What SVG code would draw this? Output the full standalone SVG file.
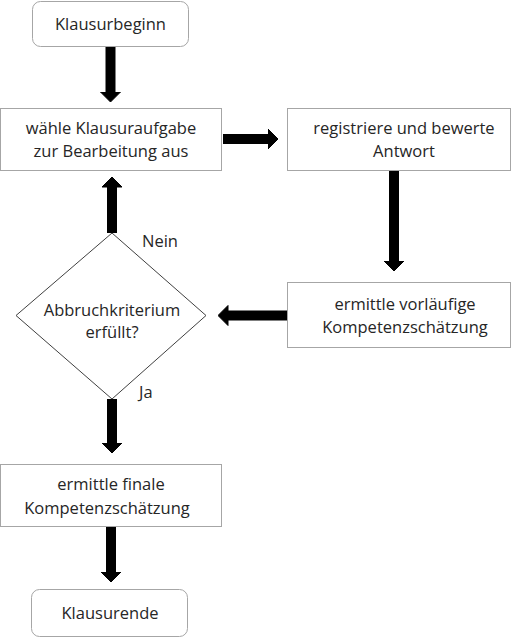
<svg xmlns="http://www.w3.org/2000/svg" width="512" height="638" viewBox="0 0 512 638">
<defs>
<style>
.box{fill:#fff;stroke:#a6a6a6;stroke-width:1}
.dia{fill:#fff;stroke:#404040;stroke-width:1}
.t{font-family:"Open Sans","Liberation Sans",sans-serif;font-size:16.5px;fill:#262626;text-anchor:middle}
.lbl{font-family:"Open Sans","Liberation Sans",sans-serif;font-size:16.5px;fill:#262626}
.arr{stroke:#000;stroke-width:10;fill:none;marker-end:url(#head)}
</style>
<marker id="head" markerUnits="userSpaceOnUse" viewBox="0 0 11 21" markerWidth="11" markerHeight="21" refX="0.5" refY="10.5" orient="auto">
<path d="M0.5,0.5 L10.5,10.5 L0.5,20.5 z" fill="#000" stroke="#000" stroke-width="1" stroke-linejoin="round"/>
</marker>
</defs>
<rect width="512" height="638" fill="#fff"/>
<g id="connectors">
<line class="arr" x1="110.5" y1="47" x2="110.5" y2="92"/>
<line class="arr" x1="223" y1="139" x2="268" y2="139"/>
<line class="arr" x1="394" y1="171" x2="394" y2="261"/>
<line class="arr" x1="287" y1="315.5" x2="228" y2="315.5"/>
<line class="arr" x1="112" y1="233" x2="112" y2="187"/>
<line class="arr" x1="112" y1="399" x2="112" y2="443"/>
<line class="arr" x1="111" y1="527" x2="111" y2="572"/>
</g>
<g id="start">
<rect class="box" x="32.5" y="1.5" width="156" height="45" rx="8"/>
<text class="t" x="110.5" y="30">Klausurbeginn</text>
</g>
<g id="select">
<rect class="box" x="0.5" y="108.5" width="221" height="62"/>
<text class="t" x="111" y="134">wähle Klausuraufgabe</text>
<text class="t" x="111" y="157">zur Bearbeitung aus</text>
</g>
<g id="register">
<rect class="box" x="287.5" y="108.5" width="223" height="62"/>
<text class="t" x="404" y="134">registriere und bewerte</text>
<text class="t" x="404" y="157">Antwort</text>
</g>
<g id="estimate">
<rect class="box" x="287.5" y="282.5" width="223" height="65"/>
<text class="t" x="405" y="310">ermittle vorläufige</text>
<text class="t" x="405" y="333">Kompetenzschätzung</text>
</g>
<g id="decision">
<polygon class="dia" points="112,233 206,315.5 112,399 16,315.5"/>
<text class="t" x="112" y="316">Abbruchkriterium</text>
<text class="t" x="112" y="338">erfüllt?</text>
<text class="lbl" x="142" y="247">Nein</text>
<text class="lbl" x="139" y="398">Ja</text>
</g>
<g id="final">
<rect class="box" x="0.5" y="464.5" width="221" height="62"/>
<text class="t" x="111" y="490">ermittle finale</text>
<text class="t" x="107" y="514">Kompetenzschätzung</text>
</g>
<g id="end">
<rect class="box" x="31.5" y="589.5" width="156" height="47" rx="8"/>
<text class="t" x="110" y="619">Klausurende</text>
</g>
</svg>
